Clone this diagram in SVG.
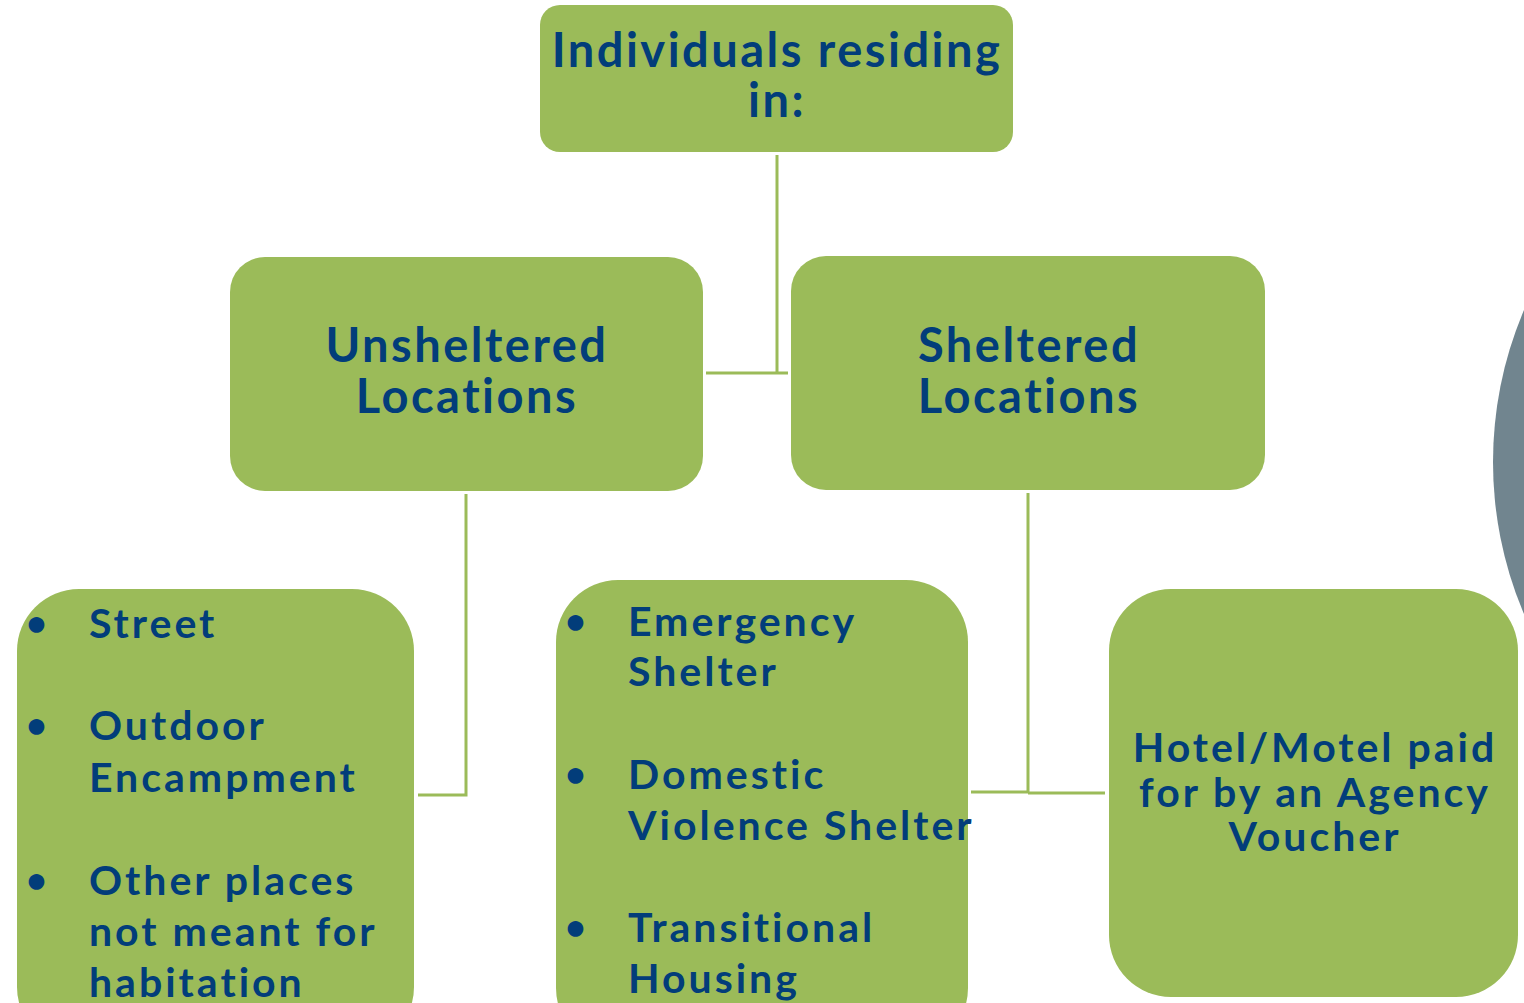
<svg xmlns="http://www.w3.org/2000/svg" width="1524" height="1003" viewBox="0 0 1524 1003">
<style>
.box{fill:#9BBB59}
.t{font-family:Lato,"Open Sans","Liberation Sans",sans-serif;font-weight:700;fill:#023D7A}
.c{text-anchor:middle}
.big{font-size:47px;letter-spacing:2.5px}
.med{font-size:41px;letter-spacing:3px}
.bul{font-size:36px}
.conn{stroke:#9BBB59;stroke-width:3;fill:none}
</style>
<rect width="1524" height="1003" fill="#ffffff"/>
<circle cx="1881" cy="462" r="388" fill="#71858F"/>
<g id="connectors">
<path class="conn" d="M777 155V373M706 373H788"/>
<path class="conn" d="M466 494V795H418"/>
<path class="conn" d="M1028 493V793M971 792H1028M1028 793H1105"/>
</g>
<g id="top">
<rect class="box" x="540" y="5" width="473" height="147" rx="20"/>
<text class="t c big" x="777" y="67">Individuals residing</text>
<text class="t c big" x="777" y="117">in:</text>
</g>
<g id="unsheltered">
<rect class="box" x="230" y="257" width="473" height="234" rx="35"/>
<text class="t c big" x="467" y="362">Unsheltered</text>
<text class="t c big" x="467" y="413">Locations</text>
</g>
<g id="sheltered">
<rect class="box" x="791" y="256" width="474" height="234" rx="35"/>
<text class="t c big" x="1029" y="362">Sheltered</text>
<text class="t c big" x="1029" y="413">Locations</text>
</g>
<g id="unsheltered-list">
<rect class="box" x="17" y="589" width="397" height="460" rx="62"/>
<text class="t bul" x="26" y="636">•</text>
<text class="t med" x="89" y="638">Street</text>
<text class="t bul" x="26" y="738">•</text>
<text class="t med" x="89" y="740">Outdoor</text>
<text class="t med" x="89" y="792">Encampment</text>
<text class="t bul" x="26" y="893">•</text>
<text class="t med" x="89" y="895">Other places</text>
<text class="t med" x="89" y="946">not meant for</text>
<text class="t med" x="89" y="997">habitation</text>
</g>
<g id="sheltered-list">
<rect class="box" x="556" y="580" width="412" height="470" rx="62"/>
<text class="t bul" x="565" y="634">•</text>
<text class="t med" x="628" y="636">Emergency</text>
<text class="t med" x="628" y="686">Shelter</text>
<text class="t bul" x="565" y="787">•</text>
<text class="t med" x="628" y="789">Domestic</text>
<text class="t med" x="628" y="840">Violence Shelter</text>
<text class="t bul" x="565" y="940">•</text>
<text class="t med" x="628" y="942">Transitional</text>
<text class="t med" x="628" y="993">Housing</text>
</g>
<g id="hotel">
<rect class="box" x="1109" y="589" width="409" height="408" rx="62"/>
<text class="t c med" x="1315" y="762">Hotel/Motel paid</text>
<text class="t c med" x="1315" y="807">for by an Agency</text>
<text class="t c med" x="1315" y="851">Voucher</text>
</g>
</svg>
